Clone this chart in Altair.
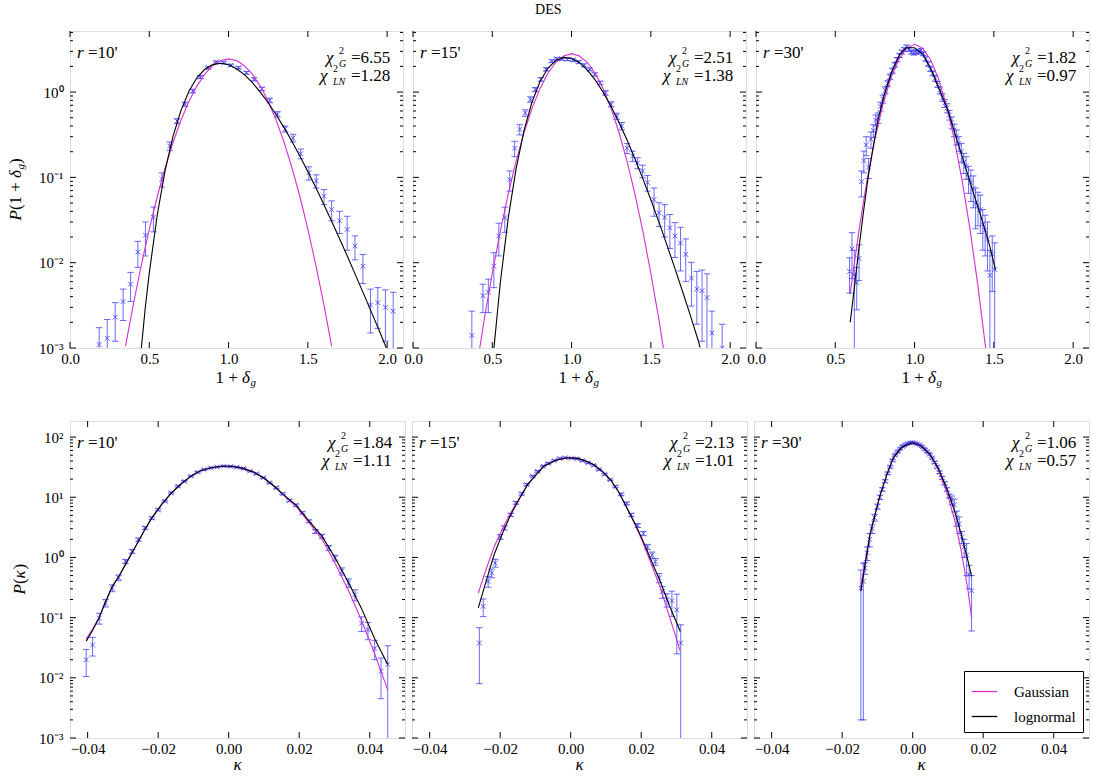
import altair as alt
import pandas as pd

FONT = "Liberation Serif"
BLUE = "#3a3aff"
MAGENTA = "#d22ed2"

# ---------------- top row: P(1 + delta_g) ----------------
T1_X = [0.184, 0.235, 0.285, 0.335, 0.382, 0.428, 0.476, 0.526, 0.579, 0.629, 0.675, 0.725, 0.774,
        0.822, 0.872, 0.922, 0.969, 1.015, 1.063, 1.113, 1.161, 1.21, 1.26, 1.308, 1.357, 1.407,
        1.455, 1.507, 1.553, 1.602, 1.65, 1.70, 1.748, 1.797, 1.847, 1.895, 1.941, 1.989, 2.038]
T1_Y = [0.0011, 0.0013, 0.0023, 0.0035, 0.0056, 0.0133, 0.021, 0.034, 0.095, 0.233, 0.457, 0.72, 1.03,
        1.5, 1.93, 2.25, 2.21, 2.06, 1.93, 1.68, 1.41, 1.09, 0.80, 0.55, 0.37, 0.29,
        0.19, 0.113, 0.091, 0.060, 0.042, 0.031, 0.0245, 0.0157, 0.0091, 0.0032, 0.0034, 0.0030, 0.0027]
T1_E = [0.00063, 0.00086, 0.0011, 0.0014, 0.0021, 0.0045, 0.009, 0.011, 0.018, 0.027, 0.03, 0.04, 0.05,
        0.06, 0.06, 0.06, 0.06, 0.06, 0.06, 0.06, 0.06, 0.05, 0.05, 0.04, 0.03, 0.03,
        0.025, 0.02, 0.016, 0.012, 0.011, 0.009, 0.0105, 0.0049, 0.0034, 0.0017, 0.0017, 0.0018, 0.0018]
T1_GX = [0.35, 0.40, 0.45, 0.50, 0.55, 0.60, 0.65, 0.70, 0.75, 0.80, 0.85, 0.90, 0.95, 1.00,
         1.05, 1.10, 1.15, 1.20, 1.25, 1.30, 1.35, 1.40, 1.45, 1.50, 1.55, 1.60, 1.65]
T1_GY = [0.00105, 0.0033, 0.0094, 0.0248, 0.0593, 0.129, 0.258, 0.469, 0.776, 1.175, 1.62, 2.04, 2.34, 2.45,
         2.34, 2.04, 1.62, 1.175, 0.776, 0.469, 0.258, 0.129, 0.0593, 0.0248, 0.0094, 0.0033, 0.00105]
T1_LX = [0.45, 0.475, 0.50, 0.55, 0.60, 0.65, 0.70, 0.75, 0.80, 0.85, 0.90, 0.95, 1.00, 1.05, 1.10,
         1.15, 1.20, 1.25, 1.30, 1.35, 1.40, 1.45, 1.50, 1.55, 1.60, 1.65, 1.70, 1.75, 1.80, 1.85,
         1.90, 1.95, 2.00]
T1_LY = [0.0010, 0.0030, 0.0076, 0.036, 0.121, 0.304, 0.611, 1.02, 1.47, 1.85, 2.10, 2.18, 2.09, 1.88, 1.60,
         1.29, 1.00, 0.75, 0.543, 0.383, 0.263, 0.177, 0.117, 0.076, 0.0485, 0.0306, 0.0191, 0.0118, 0.0072,
         0.0044, 0.00265, 0.0016, 0.00095]

T2_X = [0.371, 0.441, 0.475, 0.51, 0.541, 0.579, 0.61, 0.641, 0.673, 0.708, 0.74, 0.771, 0.806, 0.84,
        0.875, 0.906, 0.94, 0.975, 1.01, 1.046, 1.079, 1.114, 1.146, 1.181, 1.214, 1.25, 1.285, 1.316,
        1.35, 1.385, 1.416, 1.448, 1.479, 1.52, 1.552, 1.587, 1.62, 1.652, 1.687, 1.72, 1.756, 1.79,
        1.823, 1.854, 1.885, 1.95]
T2_Y = [0.0014, 0.0041, 0.0045, 0.0091, 0.0205, 0.0337, 0.094, 0.22, 0.365, 0.57, 0.82, 1.07, 1.41, 1.85,
        2.31, 2.45, 2.45, 2.42, 2.37, 2.25, 2.06, 1.85, 1.61, 1.28, 0.98, 0.72, 0.52, 0.40,
        0.22, 0.178, 0.148, 0.119, 0.087, 0.055, 0.0385, 0.034, 0.0257, 0.0205, 0.017, 0.0125, 0.0066, 0.0049,
        0.0047, 0.0039, 0.0015, 0.0010]
T2_E = [0.0013, 0.0015, 0.0019, 0.004, 0.0085, 0.011, 0.025, 0.045, 0.05, 0.05, 0.06, 0.06, 0.07, 0.08,
        0.08, 0.08, 0.08, 0.08, 0.08, 0.08, 0.08, 0.07, 0.07, 0.06, 0.06, 0.05, 0.045, 0.04,
        0.03, 0.025, 0.022, 0.02, 0.018, 0.02, 0.012, 0.014, 0.011, 0.009, 0.009, 0.0065, 0.0035, 0.003,
        0.0035, 0.0035, 0.0012, 0.0009]
T2_GX = [0.42, 0.45, 0.50, 0.55, 0.60, 0.65, 0.70, 0.75, 0.80, 0.85, 0.90, 0.95, 1.00,
         1.05, 1.10, 1.15, 1.20, 1.25, 1.30, 1.35, 1.40, 1.45, 1.50, 1.55, 1.58]
T2_GY = [0.00097, 0.0022, 0.0075, 0.0231, 0.0634, 0.154, 0.333, 0.64, 1.09, 1.65, 2.22, 2.65, 2.82,
         2.65, 2.22, 1.65, 1.09, 0.64, 0.333, 0.154, 0.0634, 0.0231, 0.0075, 0.0022, 0.00097]
T2_LX = [0.51, 0.55, 0.60, 0.65, 0.70, 0.75, 0.80, 0.85, 0.90, 0.95, 1.00, 1.05, 1.10, 1.15,
         1.20, 1.25, 1.30, 1.35, 1.40, 1.45, 1.50, 1.55, 1.60, 1.65, 1.70, 1.75, 1.80, 1.81]
T2_LY = [0.00098, 0.0057, 0.0328, 0.126, 0.354, 0.76, 1.315, 1.90, 2.34, 2.55, 2.49, 2.21, 1.81, 1.38,
         0.99, 0.673, 0.438, 0.274, 0.164, 0.096, 0.0546, 0.0303, 0.0164, 0.00875, 0.0046, 0.00238, 0.0012, 0.00102]

T3_X = [0.59, 0.605, 0.62, 0.635, 0.65, 0.665, 0.68, 0.695, 0.71, 0.725, 0.74, 0.755, 0.77, 0.785,
        0.80, 0.815, 0.83, 0.845, 0.86, 0.875, 0.89, 0.905, 0.92, 0.935, 0.95, 0.965, 0.98, 0.995,
        1.01, 1.025, 1.04, 1.055, 1.07, 1.085, 1.10, 1.115, 1.13, 1.145, 1.16, 1.175, 1.19, 1.205,
        1.22, 1.235, 1.25, 1.265, 1.28, 1.295, 1.31, 1.325, 1.34, 1.355, 1.37, 1.385, 1.40, 1.415,
        1.43, 1.445, 1.46, 1.475, 1.49, 1.505]
T3_Y = [0.0079, 0.0145, 0.0072, 0.0058, 0.0112, 0.089, 0.158, 0.24, 0.132, 0.28, 0.355, 0.47, 0.50, 0.68,
        0.83, 1.05, 1.26, 1.51, 1.78, 2.09, 2.40, 2.69, 2.95, 3.16, 3.39, 3.16, 2.95, 2.88,
        2.95, 2.95, 3.09, 2.82, 2.45, 2.14, 1.86, 1.66, 1.45, 1.23, 1.05, 0.87, 0.74, 0.65,
        0.54, 0.44, 0.36, 0.30, 0.25, 0.20, 0.151, 0.135, 0.100, 0.087, 0.074, 0.050, 0.047, 0.042,
        0.028, 0.024, 0.019, 0.0071, 0.0126, 0.0083]
T3_E = [0.0035, 0.008, 0.0068, 0.003, 0.005, 0.03, 0.045, 0.06, 0.035, 0.06, 0.06, 0.07, 0.07, 0.08,
        0.09, 0.1, 0.1, 0.11, 0.12, 0.13, 0.14, 0.15, 0.16, 0.16, 0.17, 0.16, 0.16, 0.16,
        0.16, 0.16, 0.16, 0.15, 0.14, 0.13, 0.12, 0.11, 0.11, 0.1, 0.1, 0.09, 0.08, 0.08,
        0.07, 0.07, 0.06, 0.06, 0.05, 0.05, 0.04, 0.04, 0.035, 0.035, 0.03, 0.025, 0.02, 0.02,
        0.014, 0.012, 0.011, 0.0068, 0.008, 0.0088]
T3_GX = [0.594, 0.65, 0.70, 0.75, 0.80, 0.85, 0.90, 0.95, 1.00, 1.05, 1.10, 1.15, 1.20, 1.25,
         1.30, 1.35, 1.40, 1.448]
T3_GY = [0.00432, 0.0244, 0.0918, 0.283, 0.708, 1.45, 2.41, 3.28, 3.63, 3.28, 2.41, 1.45, 0.708, 0.283,
         0.0918, 0.0244, 0.00527, 0.0010]
T3_LX = [0.594, 0.614, 0.646, 0.677, 0.708, 0.74, 0.77, 0.8125, 0.854, 0.906, 0.948, 1.0, 1.052, 1.104,
         1.156, 1.208, 1.26, 1.3125, 1.364, 1.417, 1.469, 1.51]
T3_LY = [0.0020, 0.0041, 0.0132, 0.0385, 0.1035, 0.233, 0.479, 0.982, 1.68, 2.77, 3.31, 3.31, 2.77, 1.85,
         1.07, 0.627, 0.305, 0.148, 0.0724, 0.0355, 0.0170, 0.0083]

# ---------------- bottom row: P(kappa) ----------------
B1_X = [-0.0404, -0.0386, -0.0367, -0.0349, -0.033, -0.0312, -0.0293, -0.0274, -0.0256, -0.0237,
        -0.0218, -0.02, -0.0181, -0.0163, -0.0144, -0.0126, -0.0107, -0.0088, -0.007, -0.0051,
        -0.0033, -0.0014, 0.0005, 0.0023, 0.0042, 0.006, 0.0079, 0.0098, 0.0116, 0.0135,
        0.0153, 0.0172, 0.0191, 0.0209, 0.0228, 0.0246, 0.0265, 0.0284, 0.0302, 0.0321,
        0.034, 0.0358, 0.0377, 0.0395, 0.0414, 0.0432, 0.0451]
B1_Y = [0.020, 0.035, 0.098, 0.175, 0.31, 0.46, 0.86, 1.26, 1.98, 3.1,
        4.5, 6.2, 8.6, 11.8, 15.3, 18.5, 22.4, 26.1, 28.8, 30.7,
        31.8, 32.9, 32.4, 31.6, 30.1, 27.2, 24.6, 21.1, 17.4, 14.4,
        11.4, 8.8, 7.4, 5.5, 4.0, 2.7, 2.25, 1.44, 0.98, 0.59,
        0.38, 0.24, 0.081, 0.063, 0.031, 0.0129, 0.0166]
B1_E = [0.0095, 0.012, 0.02, 0.025, 0.04, 0.05, 0.07, 0.09, 0.12, 0.15,
        0.2, 0.25, 0.3, 0.4, 0.5, 0.5, 0.6, 0.7, 0.7, 0.8,
        0.8, 0.8, 0.8, 0.8, 0.8, 0.7, 0.7, 0.6, 0.5, 0.5,
        0.4, 0.35, 0.3, 0.25, 0.2, 0.2, 0.18, 0.14, 0.11, 0.08,
        0.06, 0.05, 0.022, 0.02, 0.011, 0.0084, 0.0175]
B1_LX = [-0.0404, -0.0385, -0.0367, -0.035, -0.033, -0.031, -0.0293, -0.027, -0.0256, -0.024, -0.0218,
         -0.019, -0.0163, -0.0135, -0.0107, -0.008, -0.005, -0.002, 0.001, 0.004, 0.007, 0.010, 0.013,
         0.0153, 0.0191, 0.0228, 0.0265, 0.0302, 0.034, 0.0377, 0.0414, 0.0451]
B1_LY = [0.0407, 0.063, 0.100, 0.178, 0.331, 0.50, 0.76, 1.32, 1.86, 2.75, 4.54, 7.6, 11.7, 16.6, 22.4,
         27.5, 30.9, 32.7, 32.7, 30.2, 26.3, 20.9, 15.1, 11.4, 7.4, 4.0, 2.24, 0.98, 0.38, 0.141, 0.0447, 0.0166]
B1_GX = [-0.0404, -0.0385, -0.0367, -0.035, -0.033, -0.031, -0.0293, -0.027, -0.0256, -0.024, -0.0218,
         -0.019, -0.0163, -0.0135, -0.0107, -0.008, -0.005, -0.002, 0.001, 0.004, 0.007, 0.010, 0.013,
         0.0153, 0.0191, 0.0228, 0.0265, 0.0302, 0.034, 0.0377, 0.0414, 0.0451]
B1_GY = [0.044, 0.066, 0.102, 0.180, 0.33, 0.50, 0.76, 1.32, 1.86, 2.75, 4.5, 7.6, 11.7, 16.6, 22.4,
         27.5, 30.9, 32.7, 32.7, 30.2, 26.3, 20.9, 15.0, 11.2, 7.1, 3.8, 2.0, 0.79, 0.28, 0.089, 0.025, 0.0063]

B2_X = [-0.0259, -0.0248, -0.0234, -0.0224, -0.0214, -0.0200, -0.0188, -0.0170, -0.0155, -0.0139,
        -0.0125, -0.0108, -0.0094, -0.0078, -0.0064, -0.0047, -0.0031, -0.0016, 0.0002, 0.0018,
        0.0033, 0.0049, 0.0065, 0.0080, 0.0096, 0.0112, 0.0127, 0.0143, 0.0159, 0.0172,
        0.019, 0.0206, 0.0218, 0.0231, 0.024, 0.0251, 0.026, 0.0273, 0.0287, 0.0301, 0.0312]
B2_Y = [0.038, 0.154, 0.40, 0.55, 0.81, 2.2, 3.1, 5.1, 8.1, 11.4,
        16.3, 22.4, 27.0, 32.9, 36.5, 40.7, 44.0, 45.3, 44.7, 43.7,
        40.7, 37.2, 33.9, 28.8, 24.0, 19.5, 15.1, 11.2, 7.9, 5.1,
        3.4, 2.5, 1.5, 1.1, 0.85, 0.46, 0.27, 0.20, 0.19, 0.135, 0.038]
B2_E = [0.03, 0.05, 0.08, 0.09, 0.12, 0.2, 0.25, 0.3, 0.4, 0.5,
        0.6, 0.7, 0.8, 0.9, 1.0, 1.0, 1.1, 1.1, 1.1, 1.1,
        1.0, 1.0, 0.9, 0.8, 0.7, 0.6, 0.5, 0.5, 0.4, 0.3,
        0.25, 0.2, 0.15, 0.13, 0.11, 0.08, 0.06, 0.05, 0.085, 0.11, 0.038]
B2_LX = [-0.0262, -0.024, -0.0217, -0.019, -0.017, -0.0145, -0.0122, -0.010, -0.0075, -0.004, -0.001,
         0.002, 0.0045, 0.0066, 0.009, 0.0113, 0.0137, 0.016, 0.0185, 0.0207, 0.023, 0.0254, 0.028, 0.0311]
B2_LY = [0.145, 0.40, 1.12, 2.82, 5.13, 9.55, 16.2, 22.9, 33.1, 41.7, 45.3,
         44.2, 39.8, 34.7, 26.9, 19.5, 12.0, 6.6, 3.39, 1.78, 0.85, 0.40, 0.158, 0.059]
B2_GX = [-0.0262, -0.024, -0.0217, -0.019, -0.017, -0.0145, -0.0122, -0.010, -0.0075, -0.004, -0.001,
         0.002, 0.0045, 0.0066, 0.009, 0.0113, 0.0137, 0.016, 0.0185, 0.0207, 0.023, 0.0254, 0.028, 0.0311]
B2_GY = [0.257, 0.63, 1.51, 3.31, 5.5, 9.8, 16.4, 23.0, 33.1, 41.7, 45.3,
         44.2, 39.8, 34.7, 26.9, 19.5, 12.0, 6.5, 3.3, 1.66, 0.74, 0.316, 0.105, 0.0275]

B3_X = [-0.0147, -0.0140, -0.0135, -0.0129, -0.0122, -0.0115, -0.0108, -0.0100, -0.0093, -0.0086,
        -0.0078, -0.0071, -0.0064, -0.0057, -0.0050, -0.0043, -0.0036, -0.0029, -0.0022, -0.0015,
        -0.0008, -0.0001, 0.0006, 0.0013, 0.0020, 0.0027, 0.0034, 0.0041, 0.0048, 0.0055,
        0.0062, 0.0069, 0.0076, 0.0083, 0.0090, 0.0097, 0.0104, 0.0111, 0.0118, 0.0125,
        0.0132, 0.0139, 0.0146, 0.0153, 0.0160, 0.0167]
B3_Y = [0.31, 0.40, 0.67, 1.19, 2.0, 3.0, 4.6, 7.0, 10.0, 13.5,
        18.5, 25.0, 32.0, 41.0, 50.0, 57.0, 64.0, 70.0, 74.0, 78.0,
        80.0, 81.0, 80.0, 77.0, 74.0, 69.0, 63.0, 57.0, 52.0, 45.0,
        38.0, 32.0, 26.0, 21.0, 17.0, 13.5, 10.5, 9.0, 7.5, 4.6,
        3.6, 2.2, 1.5, 1.1, 0.52, 0.28]
B3_E = [0.308, 0.398, 0.15, 0.3, 0.5, 0.5, 0.6, 0.7, 0.8, 0.9,
        1.0, 1.1, 1.3, 1.5, 1.6, 1.8, 1.9, 2.0, 2.1, 2.2,
        2.3, 2.3, 2.3, 2.2, 2.1, 2.0, 1.9, 1.8, 1.7, 1.6,
        1.5, 1.4, 1.2, 1.1, 1.0, 0.9, 0.8, 1.5, 1.8, 1.3,
        1.1, 0.5, 0.5, 0.6, 0.22, 0.22]
B3_LX = [-0.0147, -0.0135, -0.0121, -0.0107, -0.0092, -0.0073, -0.0055, -0.0031, -0.0001, 0.0025,
         0.0049, 0.0072, 0.0096, 0.0119, 0.0138, 0.0157, 0.0167]
B3_LY = [0.274, 0.76, 2.4, 5.1, 11.1, 24.0, 45.2, 67.6, 80.4, 70.8, 51.3, 30.9, 14.3, 5.9, 2.4, 0.87, 0.49]
B3_GX = [-0.0147, -0.0135, -0.0121, -0.0107, -0.0092, -0.0073, -0.0055, -0.0031, -0.0001, 0.0025,
         0.0049, 0.0072, 0.0096, 0.0119, 0.0138, 0.0157, 0.0167]
B3_GY = [0.32, 0.83, 2.5, 5.2, 11.0, 24.0, 45.0, 68.0, 80.4, 70.5, 50.5, 29.5, 12.6, 4.2, 1.26, 0.28, 0.10]

# ---------------- labels / ticks ----------------
R_LABELS = ["10'", "15'", "30'"]
TOP_CHI_G = ["6.55", "2.51", "1.82"]
TOP_CHI_LN = ["1.28", "1.38", "0.97"]
BOT_CHI_G = ["1.84", "2.13", "1.06"]
BOT_CHI_LN = ["1.11", "1.01", "0.57"]
MODELS = ["Gaussian", "lognormal"]

TOP_X_DOMAIN = [0.0, 2.1]
BOT_X_DOMAIN = [-0.045, 0.05]
TOP_Y_DOMAIN = [0.001, 5.2]
BOT_Y_DOMAIN = [0.001, 185]
TOP_X_TICKS = [0.0, 0.5, 1.0, 1.5, 2.0]
BOT_X_TICKS = [-0.04, -0.02, 0.0, 0.02, 0.04]
TOP_DECADES = [0.001, 0.01, 0.1, 1]
BOT_DECADES = [0.001, 0.01, 0.1, 1, 10, 100]
MINOR_MULT = [2, 3, 4, 5, 6, 7, 8, 9]

W_TOP, W_BOT, H = 333, 335, 317

LABEL_EXPR = ("datum.value < 0.002 ? '10⁻³' : datum.value < 0.02 ? '10⁻²' : "
              "datum.value < 0.2 ? '10⁻¹' : datum.value < 2 ? '10⁰' : "
              "datum.value < 20 ? '10¹' : '10²'")


def piece(s, x, y, size=17, style="normal", align="left", angle=0, dx=0, dy=0):
    kw = dict(font=FONT, fontSize=size, fontStyle=style, align=align, baseline="middle",
              color="black", dx=dx, dy=dy)
    if angle:
        kw["angle"] = angle
    return alt.Chart(pd.DataFrame({"t": [s]})).mark_text(**kw).encode(
        x=alt.value(x), y=alt.value(y), text="t:N")


def panel(px, py, pe, gx, gy, lx, ly, W, xdom, ydom, xticks, xfmt, decades, show_y,
          r_label, chi_g, chi_ln, chi_y, row, legend=False):
    xs = alt.Scale(domain=xdom, nice=False, zero=False)
    ys = alt.Scale(type="log", domain=ydom, nice=False)
    xaxis = alt.Axis(values=xticks, format=xfmt, ticks=False, tickSize=0, domain=False, grid=False,
                     title=None, labelFlush=False, labelPadding=3, labelFont=FONT, labelFontSize=15,
                     labelColor="black")
    if show_y:
        yaxis = alt.Axis(values=decades, labelExpr=LABEL_EXPR, ticks=False, tickSize=0, domain=False,
                         grid=False, title=None, labelPadding=7, labelFont=FONT, labelFontSize=15,
                         labelColor="black", labelFlush=False)
    else:
        yaxis = None

    def X(f):
        return alt.X(f, type="quantitative", scale=xs, axis=xaxis)

    def Y(f):
        return alt.Y(f, type="quantitative", scale=ys, axis=yaxis)

    pts = pd.DataFrame({"x": px, "y": py, "e": pe})
    pts["lo"] = (pts["y"] - pts["e"]).clip(lower=1e-6)
    pts["hi"] = pts["y"] + pts["e"]
    curves = pd.concat([
        pd.DataFrame({"x": gx, "y": gy, "model": MODELS[0]}),
        pd.DataFrame({"x": lx, "y": ly, "model": MODELS[1]}),
    ], ignore_index=True)

    xt = pd.DataFrame({"v": xticks})
    ymaj = pd.DataFrame({"v": [d for d in decades if ydom[0] <= d <= ydom[1]]})
    ymin = pd.DataFrame({"v": [m * d for d in decades for m in MINOR_MULT if m * d <= ydom[1]]})

    layers = [
        alt.Chart(xt).mark_rule(color="black").encode(x=X("v"), y=alt.value(H), y2=alt.value(H - 6)),
        alt.Chart(xt).mark_rule(color="black").encode(x=X("v"), y=alt.value(0), y2=alt.value(6)),
        alt.Chart(ymaj).mark_rule(color="black").encode(y=Y("v"), x=alt.value(0), x2=alt.value(6)),
        alt.Chart(ymaj).mark_rule(color="black").encode(y=Y("v"), x=alt.value(W), x2=alt.value(W - 6)),
        alt.Chart(ymin).mark_rule(color="black").encode(y=Y("v"), x=alt.value(0), x2=alt.value(3)),
        alt.Chart(ymin).mark_rule(color="black").encode(y=Y("v"), x=alt.value(W), x2=alt.value(W - 3)),
        alt.Chart(pts).mark_rule(color=BLUE, opacity=0.75, strokeWidth=1, clip=True).encode(
            x=X("x"), y=Y("lo"), y2="hi"),
        alt.Chart(pts).mark_point(shape="M-1,0L1,0", size=42, filled=False, color=BLUE, opacity=0.75,
                                  strokeWidth=1, clip=True).encode(x=X("x"), y=Y("lo")),
        alt.Chart(pts).mark_point(shape="M-1,0L1,0", size=42, filled=False, color=BLUE, opacity=0.75,
                                  strokeWidth=1, clip=True).encode(x=X("x"), y=Y("hi")),
        alt.Chart(pts).mark_point(shape="M-1,-1L1,1M-1,1L1,-1", size=22, filled=False, color=BLUE,
                                  opacity=0.8, strokeWidth=1, clip=True).encode(x=X("x"), y=Y("y")),
    ]
    if legend:
        leg = alt.Legend(orient="bottom-right", title=None, labelFont=FONT, labelFontSize=15,
                         labelColor="black", symbolType="stroke", symbolStrokeWidth=1.3, symbolSize=650,
                         strokeColor="black", fillColor="white", padding=7, offset=6, rowPadding=3,
                         labelOffset=16, cornerRadius=0)
    else:
        leg = None
    layers.append(
        alt.Chart(curves).mark_line(strokeWidth=1.1, clip=True).encode(
            x=X("x"), y=Y("y"),
            color=alt.Color("model:N", scale=alt.Scale(domain=MODELS, range=[MAGENTA, "black"]),
                            legend=leg),
        )
    )
    # annotations
    layers += [
        piece("r", 7, 22, style="italic"),
        piece("=" + r_label, 18, 22),
        piece("χ", W - 77, chi_y, style="italic"),
        piece("2", W - 64, chi_y - 7, size=10),
        piece("G", W - 64, chi_y + 6, size=10, style="italic"),
        piece("=" + chi_g, W - 52, chi_y),
        piece("χ", W - 83, chi_y + 18, style="italic"),
        piece("2", W - 70, chi_y + 11, size=10),
        piece("LN", W - 70, chi_y + 24, size=10, style="italic"),
        piece("=" + chi_ln, W - 52, chi_y + 18),
    ]
    # axis titles
    if row == "top":
        x0 = W / 2 - 21
        layers += [
            piece("1 +", x0, H + 30),
            piece("δ", x0 + 26.5, H + 30, style="italic"),
            piece("g", x0 + 35, H + 35, size=11, style="italic"),
        ]
        if show_y:
            ax, ay = -54, H / 2 + 31
            layers += [
                piece("P", ax, ay, style="italic", angle=270),
                piece("(1 +", ax, ay, angle=270, dx=10.4),
                piece("δ", ax, ay, style="italic", angle=270, dx=42.6),
                piece("g", ax, ay, size=11, style="italic", angle=270, dx=51.1, dy=5),
                piece(")", ax, ay, angle=270, dx=56.6),
            ]
    else:
        layers.append(piece("κ", W / 2, H + 27, style="italic", align="center"))
        if show_y:
            ax, ay = -50, H / 2 + 15
            layers += [
                piece("P", ax, ay, style="italic", angle=270),
                piece("(", ax, ay, angle=270, dx=10.4),
                piece("κ", ax, ay, style="italic", angle=270, dx=16.1),
                piece(")", ax, ay, angle=270, dx=25.0),
            ]
    return alt.layer(*layers).properties(width=W, height=H)


top_specs = [
    (T1_X, T1_Y, T1_E, T1_GX, T1_GY, T1_LX, T1_LY),
    (T2_X, T2_Y, T2_E, T2_GX, T2_GY, T2_LX, T2_LY),
    (T3_X, T3_Y, T3_E, T3_GX, T3_GY, T3_LX, T3_LY),
]
bot_specs = [
    (B1_X, B1_Y, B1_E, B1_GX, B1_GY, B1_LX, B1_LY),
    (B2_X, B2_Y, B2_E, B2_GX, B2_GY, B2_LX, B2_LY),
    (B3_X, B3_Y, B3_E, B3_GX, B3_GY, B3_LX, B3_LY),
]

top_panels = [
    panel(*s, W_TOP, TOP_X_DOMAIN, TOP_Y_DOMAIN, TOP_X_TICKS, ".1f", TOP_DECADES, i == 0,
          R_LABELS[i], TOP_CHI_G[i], TOP_CHI_LN[i], 27, "top")
    for i, s in enumerate(top_specs)
]
bot_panels = [
    panel(*s, W_BOT, BOT_X_DOMAIN, BOT_Y_DOMAIN, BOT_X_TICKS, ".2f", BOT_DECADES, i == 0,
          R_LABELS[i], BOT_CHI_G[i], BOT_CHI_LN[i], 22, "bottom", legend=(i == 2))
    for i, s in enumerate(bot_specs)
]

top = alt.hconcat(*top_panels, spacing=10, bounds="flush").resolve_scale(color="independent")
bot = alt.hconcat(*bot_panels, spacing=7, bounds="flush").resolve_scale(color="independent")

chart = alt.vconcat(
    top, bot, spacing=31,
    title=alt.TitleParams("DES", font=FONT, fontSize=14, fontWeight="normal", color="black",
                          anchor="middle", offset=13),
).resolve_scale(color="independent").properties(
    padding={"left": 6, "top": 3, "right": 2, "bottom": 2}
).configure_view(stroke="black", strokeWidth=1).configure(background="white")

chart.save("out.html", embed_options={"renderer": "svg", "actions": False})
